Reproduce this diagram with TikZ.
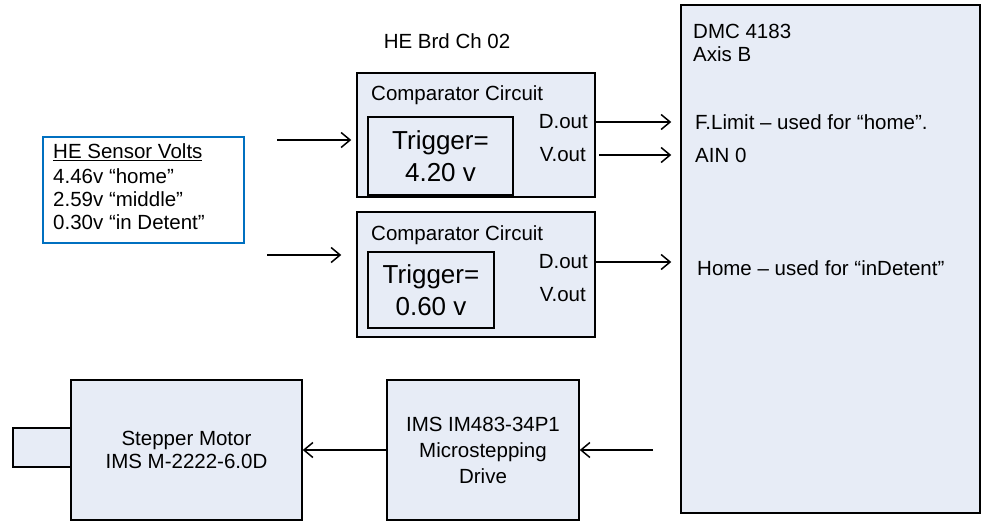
\documentclass[tikz,border=0pt]{standalone}
\usepackage{fontspec}
\setmainfont{Liberation Sans}
\usetikzlibrary{arrows.meta}
\definecolor{boxfill}{RGB}{231,236,246}
\definecolor{heblue}{RGB}{0,112,192}
\tikzset{
  blk/.style={draw=black, line width=1.5pt, fill=boxfill, inner sep=0pt},
  inner/.style={draw=black, line width=1.5pt, inner sep=0pt},
  txt/.style={inner sep=0pt, font=\fontsize{20.5}{23}\selectfont},
  big/.style={inner sep=0pt, font=\fontsize{26}{32}\selectfont, align=center},
  conn/.style={line width=1.5pt, -{Straight Barb[length=9pt,width=15pt,line width=1.5pt]}},
}
\begin{document}
\begin{tikzpicture}[x=1pt,y=-1pt]
\useasboundingbox (0,0) rectangle (982,522);
% blocks
\node[blk, minimum width=299pt, minimum height=508pt] (dmc) at (830.5,259) {};
\node[blk, minimum width=238pt, minimum height=124pt] (comp1) at (476,135) {};
\node[inner, minimum width=145pt, minimum height=78pt] (trig1) at (440.5,156) {};
\node[blk, minimum width=238pt, minimum height=125pt] (comp2) at (476,274.5) {};
\node[inner, minimum width=126pt, minimum height=76pt] (trig2) at (431,290) {};
\node[draw=heblue, line width=2pt, fill=white, minimum width=201pt, minimum height=106pt, inner sep=0pt] (he) at (143.5,190) {};
\node[blk, minimum width=231pt, minimum height=140pt] (motor) at (186.5,450) {};
\node[blk, minimum width=58pt, minimum height=39pt] (shaft) at (42,447.5) {};
\node[blk, minimum width=192pt, minimum height=140pt] (drive) at (483,450) {};
% texts
\node[txt] (hebrd) at (447,41) {HE Brd Ch 02};
\node[txt, anchor=west] (hesv) at (53,152) {\underline{HE Sensor Volts}};
\node[txt, anchor=west] (he1) at (53,176) {4.46v “home”};
\node[txt, anchor=west] (he2) at (53,199) {2.59v “middle”};
\node[txt, anchor=west] (he3) at (53,222) {0.30v “in Detent”};
\node[txt, anchor=west] (cc1) at (371,95) {Comparator Circuit};
\node[big] (tt1) at (trig1) {Trigger=\\4.20 v};
\node[txt, anchor=east] (dout1) at (588,122) {D.out};
\node[txt, anchor=east] (vout1) at (586,155) {V.out};
\node[txt, anchor=west] (cc2) at (371,235) {Comparator Circuit};
\node[big] (tt2) at (trig2) {Trigger=\\0.60 v};
\node[txt, anchor=east] (dout2) at (588,262) {D.out};
\node[txt, anchor=east] (vout2) at (586,295) {V.out};
\node[txt, anchor=west] (dmc1) at (693,31) {DMC 4183};
\node[txt, anchor=west] (dmc2) at (693,54) {Axis B};
\node[txt, anchor=west] (flim) at (695,122) {F.Limit – used for “home”.};
\node[txt, anchor=west] (ain) at (695,155) {AIN 0};
\node[txt, anchor=west] (homet) at (697,268) {Home – used for “inDetent”};
\node[txt, align=center] (mtxt) at (motor) {Stepper Motor\\IMS M-2222-6.0D};
\node[txt, align=center, font=\fontsize{20.5}{26}\selectfont] (dtxt) at (drive) {IMS IM483-34P1\\Microstepping\\Drive};
% connectors
\coordinate (in1) at (277,140);
\coordinate (in2) at (267,255);
\coordinate (drvin) at (653,450);
\draw[conn, shorten >=5pt] (in1) -- (in1 -| comp1.west);
\draw[conn, shorten >=15pt] (in2) -- (in2 -| comp2.west);
\draw[conn, shorten >=9pt] (comp1.east |- dout1) -- (dmc.west |- dout1);
\draw[conn, shorten <=3pt, shorten >=9pt] (comp1.east |- vout1) -- (dmc.west |- vout1);
\draw[conn, shorten >=9pt] (comp2.east |- dout2) -- (dmc.west |- dout2);
\draw[conn] (drvin) -- (drive.east);
\draw[conn] (drive.west) -- (motor.east);
\end{tikzpicture}
\end{document}
